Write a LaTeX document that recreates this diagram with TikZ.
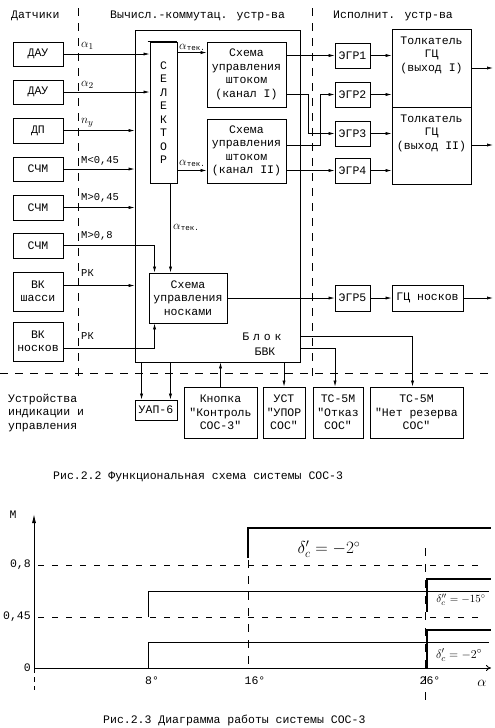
\documentclass[tikz,border=0pt]{standalone}
\usepackage{fontspec}
\setmainfont{Liberation Mono}
\newfontfamily\qfont{Liberation Mono}
\usetikzlibrary{arrows.meta,calc}
\newcommand\qq{{\qfont"}}
\begin{document}
\begin{tikzpicture}[x=1pt,y=-1pt,
  every node/.style={font=\fontsize{11.5}{13.5}\selectfont, inner sep=0pt},
  box/.style={draw, line width=0.9pt, align=center},
  conn/.style={line width=0.7pt},
  arr/.style={conn,-{Latex[length=6pt,width=3.2pt]}},
  sepline/.style={line width=1pt, dash pattern=on 8pt off 7pt},
  lbl/.style={anchor=west, font=\fontsize{10.5}{12}\selectfont},
  alab/.style={anchor=west, font=\fontsize{13}{14}\selectfont},
  tek/.style={anchor=west, font=\fontsize{12}{12}\selectfont},
  chdash/.style={line width=0.8pt, dash pattern=on 6pt off 8pt},
]
\useasboundingbox (0,0) rectangle (495,728);

% headers
\node[anchor=west] (h1) at (11,16) {Датчики};
\node[anchor=west] (h2) at (110,16) {Вычисл.-коммутац. устр-ва};
\node[anchor=west] (h3) at (333,16) {Исполнит. устр-ва};

% separators
\draw[sepline] (78,8) -- (78,381);
\draw[sepline] (312,8) -- (312,381);
\draw[sepline] (0,373) -- (495,373);

% sensors
\node[box,minimum width=50pt,minimum height=24pt] (dau1) at (38,54) {ДАУ};
\node[box,minimum width=50pt,minimum height=24pt] (dau2) at (38,92) {ДАУ};
\node[box,minimum width=50pt,minimum height=25pt] (dp) at (38,130.5) {ДП};
\node[box,minimum width=50pt,minimum height=24pt] (schm1) at (38,169) {СЧМ};
\node[box,minimum width=50pt,minimum height=25pt] (schm2) at (38,207.5) {СЧМ};
\node[box,minimum width=50pt,minimum height=25pt] (schm3) at (38,245.5) {СЧМ};
\node[box,minimum width=50pt,minimum height=39pt] (vk1) at (38,291.5) {ВК\\шасси};
\node[box,minimum width=50pt,minimum height=39pt] (vk2) at (38,341.5) {ВК\\носков};

% computing block
\node[box,minimum width=165pt,minimum height=332pt] (blk) at (217.5,196) {};
\node[box,minimum width=27pt,minimum height=141pt] (sel) at (163.5,112.5) {С\\Е\\Л\\Е\\К\\Т\\О\\Р};
\draw[line width=1.8pt] ($(sel.north west)+(-2,0)$) -- (sel.north east);
\node[box,minimum width=79pt,minimum height=65pt] (kan1) at (246.5,74.5) {Схема\\управления\\штоком\\(канал I)};
\node[box,minimum width=79pt,minimum height=64pt] (kan2) at (246.5,151) {Схема\\управления\\штоком\\(канал II)};
\node[box,minimum width=78pt,minimum height=50pt] (nos) at (188,298) {Схема\\управления\\носками};
\node (blk1) at (262,337) {Б\,\,л\,\,о\,\,к};
\node (blk2) at (265,352) {БВК};

% actuators
\node[box,minimum width=35pt,minimum height=25pt] (egr1) at (352.5,55.5) {ЭГР1};
\node[box,minimum width=35pt,minimum height=25pt] (egr2) at (352.5,94.5) {ЭГР2};
\node[box,minimum width=35pt,minimum height=25pt] (egr3) at (352.5,133.5) {ЭГР3};
\node[box,minimum width=35pt,minimum height=25pt] (egr4) at (352.5,170.5) {ЭГР4};
\node[box,minimum width=35pt,minimum height=26pt] (egr5) at (352.5,298) {ЭГР5};
\node[box,minimum width=79pt,minimum height=78pt] (tol1) at (431.5,68) {};
\node[box,minimum width=79pt,minimum height=77pt] (tol2) at (431.5,145.5) {};
\node[align=center,anchor=north] (tol1t) at ($(tol1.north)+(0,8)$) {Толкатель\\ГЦ\\(выход I)};
\node[align=center,anchor=north] (tol2t) at ($(tol2.north)+(0,8)$) {Толкатель\\ГЦ\\(выход II)};
\node[box,minimum width=71pt,minimum height=26pt] (gcn) at (427.5,298) {ГЦ носков};
\coordinate (out1) at (493,68);
\coordinate (out2) at (493,145);
\coordinate (out3) at (493,298);

% indication devices
\node[anchor=north west,align=left] (ind) at (8,394) {Устройства\\индикации и\\управления};
\node[box,minimum width=42pt,minimum height=20pt] (uap) at (156,410) {УАП-6};
\node[box,minimum width=73pt,minimum height=51pt] (knop) at (220.5,412.5) {Кнопка\\\qq Контроль\\СОС-3\qq};
\node[box,minimum width=42pt,minimum height=51pt] (ust) at (284,412.5) {УСТ\\\qq УПОР\\СОС\qq};
\node[box,minimum width=50pt,minimum height=51pt] (otk) at (338,412.5) {ТС-5М\\\qq Отказ\\СОС\qq};
\node[box,minimum width=93pt,minimum height=51pt] (netr) at (416.5,412.5) {ТС-5М\\\qq Нет резерва\\СОС\qq};

% sensor connections
\draw[arr] (dau1.east) -- (dau1.east -| sel.west);
\draw[arr] (dau2.east) -- (dau2.east -| sel.west);
\draw[arr] (dp.east) -- (dp.east -| blk.west);
\draw[arr] (schm1.east) -- (schm1.east -| blk.west);
\draw[arr] (schm2.east) -- (schm2.east -| blk.west);
\draw[arr] (schm3.east) -| ($(nos.north west)+(6,0)$);
\coordinate (vk1o) at ($(vk1.east)+(0,-6)$);
\draw[arr] (vk1o) -- (vk1o -| blk.west);
\coordinate (vk2o) at ($(vk2.east)+(0,7)$);
\draw[arr] (vk2o) -| ($(nos.south west)+(6,0)$);

\node[alab] (la1) at (81,46) {$\alpha_1$};
\node[alab] (la2) at (81,85) {$\alpha_2$};
\node[alab] (la3) at (81,123) {$n_y$};
\node[lbl] (la4) at (81,161) {M<0,45};
\node[lbl] (la5) at (81,198) {M>0,45};
\node[lbl] (la6) at (81,236) {M>0,8};
\node[lbl] (la7) at (81,273) {РК};
\node[lbl] (la8) at (81,336) {РК};

% selector outputs
\coordinate (k1in) at ($(kan1.north west)+(0,11)$);
\coordinate (k2in) at ($(kan2.south west)+(0,-13)$);
\draw[arr] (sel.east |- k1in) -- (k1in);
\draw[arr] (sel.east |- k2in) -- (k2in);
\coordinate (selb) at ($(sel.south)+(7,0)$);
\draw[arr] (selb) -- (selb |- nos.north);
\node[tek] (t1) at (179,47) {$\alpha$\raisebox{-1pt}{\fontsize{7.5}{8}\selectfont тек.}};
\node[tek] (t2) at (179,163) {$\alpha$\raisebox{-1pt}{\fontsize{7.5}{8}\selectfont тек.}};
\node[tek] (t3) at (173,227) {$\alpha$\raisebox{-1pt}{\fontsize{7.5}{8}\selectfont тек.}};

% channel outputs
\draw[arr] (kan1.east |- egr1.west) -- (egr1.west);
\draw[arr] (kan1.east |- egr2.west) -- ++(22,0) |- (egr3.west);
\coordinate (k2o) at ($(kan2.north east)+(0,27)$);
\draw[arr] (k2o) -- ++(34,0) |- (egr2.west);
\draw[arr] (kan2.east |- egr4.west) -- (egr4.west);

\draw[arr] (egr1.east) -- (egr1.east -| tol1.west);
\draw[arr] (egr2.east) -- (egr2.east -| tol1.west);
\draw[arr] (egr3.east) -- (egr3.east -| tol2.west);
\draw[arr] (egr4.east) -- (egr4.east -| tol2.west);
\draw[arr] (tol1.east |- out1) -- (out1);
\draw[arr] (tol2.east |- out2) -- (out2);

\draw[arr] (nos.east) -- (nos.east -| egr5.west);
\draw[arr] (egr5.east) -- (gcn.west);
\draw[arr] (gcn.east) -- (out3);

% bottom connections
\coordinate (u1) at ($(uap.north west)+(7,0)$);
\coordinate (u2) at ($(uap.north east)+(-7,0)$);
\draw[arr] (u1 |- blk.south) -- (u1);
\draw[arr] (u2 |- blk.south) -- (u2);
\draw[arr] (knop.north) -- (knop.north |- blk.south);
\draw[arr] (ust.north |- blk.south) -- (ust.north);
\coordinate (b1) at ($(blk.south east)+(0,-14)$);
\draw[arr] (b1) -| ($(otk.north)+(-3,0)$);
\coordinate (b2) at ($(blk.south east)+(0,-26)$);
\draw[arr] (b2) -| ($(netr.north)+(-4,0)$);

\node[anchor=west] (cap1) at (53,477) {Рис.2.2 Функциональная схема системы СОС-3};

% ---------- chart ----------
\coordinate (O) at (34,668);
\draw[line width=0.9pt,-{Latex[length=9pt,width=4pt]}] (O) -- (34,514);
\draw[line width=0.7pt,dash pattern=on 5pt off 4pt] (O) -- (34,690);
\draw[line width=0.8pt,-{To[length=5pt,width=6pt]}] (O) -- (491,668);
\draw[chdash] (38,565) -- (482,565);
\draw[chdash] (38,617) -- (482,617);
\node[anchor=center] (lM) at (13,515) {M};
\node[anchor=east] (l08) at (31,565) {0,8};
\node[anchor=east] (l045) at (31,617) {0,45};
\node[anchor=east] (l0) at (31,668) {0};

\draw[line width=0.9pt] (148,668) -- (148,642) -- (489,642);
\draw[line width=0.9pt] (148,617) -- (148,591) -- (489,591);
\draw[line width=2pt] (248,558) -- (248,528) -- (491,528);
\draw[line width=0.7pt,dash pattern=on 8pt off 8pt] (248,560) -- (248,668);
\draw[line width=0.7pt,dash pattern=on 8pt off 8pt] (425,548) -- (425,703);
\draw[line width=1.4pt] (427,612) -- (427,579) -- (491,579);
\draw[line width=1.4pt] (427,668) -- (427,630) -- (491,630);

\node (d1) at (329,549) {\fontsize{18}{18}\selectfont$\delta'_c = -2^\circ$};
\node (d2) at (461,600) {\fontsize{11}{12}\selectfont$\delta''_c = -15^\circ$};
\node (d3) at (459,655) {\fontsize{13}{14}\selectfont$\delta'_c = -2^\circ$};
\node (x8) at (152,681) {8°};
\node (x16) at (255,681) {16°};
\node (x26) at (430,681) {26°};
\node (xa) at (482,683) {\fontsize{15}{15}\selectfont$\alpha$};

\node[anchor=west] (cap2) at (103,720) {Рис.2.3 Диаграмма работы системы СОС-3};
\end{tikzpicture}
\end{document}
